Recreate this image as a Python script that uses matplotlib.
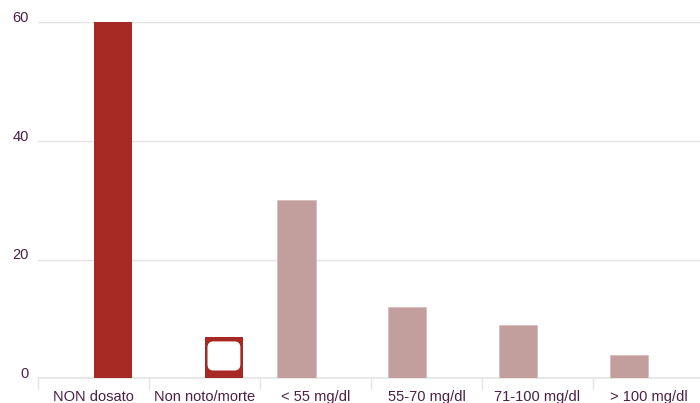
import matplotlib
matplotlib.use("Agg")
import matplotlib.pyplot as plt
from matplotlib.patches import FancyBboxPatch
from matplotlib.transforms import IdentityTransform, ScaledTranslation

categories = ["NON dosato", "Non noto/morte", "< 55 mg/dl", "55-70 mg/dl",
              "71-100 mg/dl", "> 100 mg/dl"]
series_dark = [60, 7, 0, 0, 0, 0]
series_light = [0, 0, 30, 12, 9, 4]
y_ticks = [0, 20, 40, 60]

dark_red = "#A72923"
light_red = "#C29E9C"
text_col = "#4B1F45"
grid_col = "#E4E4E4"

plt.rcParams["font.family"] = ["Liberation Sans", "DejaVu Sans"]

fig = plt.figure(figsize=(7.0, 4.03), dpi=100)
ax = fig.add_axes([0.0543, 0.0608, 0.9514, 0.8846])

x = list(range(len(categories)))
bw = 0.35
bars_dark = ax.bar(x, series_dark, width=bw, align="edge", color=dark_red,
                   zorder=3, clip_on=False)
ax.bar(x, series_light, width=-bw, align="edge", color=light_red,
       edgecolor="#D8BDBB", linewidth=0.6, zorder=3)

ax.set_xlim(-0.5, len(categories) - 0.5)
ax.set_ylim(0, 60)

ax.set_yticks(y_ticks)
ax.set_yticklabels([str(v) for v in y_ticks])
ax.yaxis.grid(True, color=grid_col, linewidth=1.0, zorder=0)
ax.tick_params(axis="y", length=0, pad=6.5, labelsize=10.5, labelcolor=text_col)
lift = ScaledTranslation(0, 3 / 72, fig.dpi_scale_trans)
for lbl in ax.get_yticklabels():
    lbl.set_verticalalignment("center")
    lbl.set_transform(lbl.get_transform() + lift)

ax.set_xticks(x)
ax.set_xticklabels(categories)
ax.set_xticks([i - 0.5 for i in range(len(categories) + 1)], minor=True)
ax.tick_params(axis="x", which="major", length=0, pad=8, labelsize=10.5,
               labelcolor=text_col)
ax.tick_params(axis="x", which="minor", length=8, width=1.0, color=grid_col)

for side in ("top", "right", "left"):
    ax.spines[side].set_visible(False)
ax.spines["bottom"].set_color(grid_col)
ax.spines["bottom"].set_linewidth(1.2)

# white rounded inset drawn inside the "Non noto/morte" bar
bar = bars_dark[1]
(x0, y0) = ax.transData.transform((bar.get_x(), bar.get_y()))
(x1, y1) = ax.transData.transform((bar.get_x() + bar.get_width(),
                                   bar.get_y() + bar.get_height()))
inset = FancyBboxPatch((x0 + 3, y0 + 8), (x1 - x0) - 6, (y1 - y0) - 12.5,
                       boxstyle="round,pad=0,rounding_size=6",
                       transform=IdentityTransform(), facecolor="white",
                       edgecolor="none", zorder=4)
fig.patches.append(inset)

fig.savefig("out.png", dpi=100)
